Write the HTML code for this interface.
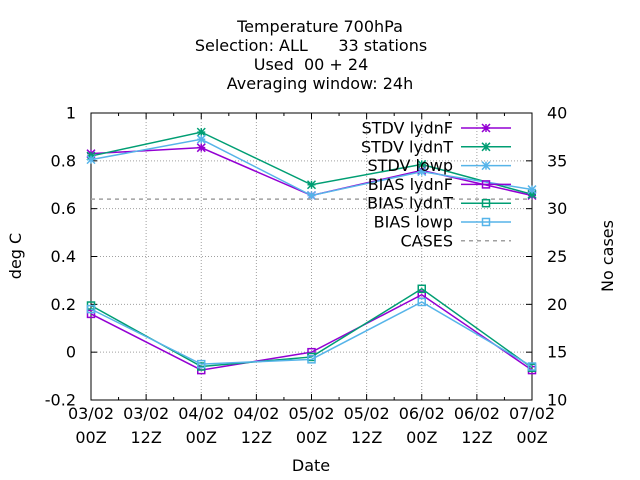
<!DOCTYPE html>
<html><head><meta charset="utf-8"><style>
body{margin:0;background:#fff}
svg{display:block;font-family:"DejaVu Sans","Liberation Sans",sans-serif}
text{white-space:pre}
</style></head><body>
<svg id="c" width="640" height="480">
<g font-size="16" text-anchor="middle" fill="#000">
<text x="320" y="32" xml:space="preserve">Temperature 700hPa</text>
<text x="311" y="51" xml:space="preserve">Selection: ALL      33 stations</text>
<text x="311" y="70" xml:space="preserve">Used  00 + 24</text>
<text x="320" y="89" xml:space="preserve">Averaging window: 24h</text>
</g>
<text x="21" y="256" font-size="16" text-anchor="middle" transform="rotate(-90 21 256)">deg C</text>
<text x="613" y="256" font-size="16" text-anchor="middle" transform="rotate(-90 613 256)">No cases</text>
<text x="311" y="471" font-size="16" text-anchor="middle">Date</text>
<g id="grid"></g><g id="axes"></g><g id="series"></g><g id="legend"></g>
</svg>
<script>
const xLabels=["03/02","03/02","04/02","04/02","05/02","05/02","06/02","06/02","07/02"];
const xLabels2=["00Z","12Z","00Z","12Z","00Z","12Z","00Z","12Z","00Z"];
const yTicks=[-0.2,0,0.2,0.4,0.6,0.8,1];
const y2Ticks=[10,15,20,25,30,35,40];
const dates=[0,1,2,3,4];
const stdvF=[0.83,0.855,0.655,0.76,0.655];
const stdvT=[0.82,0.92,0.70,0.785,0.66];
const stdvL=[0.805,0.89,0.655,0.755,0.68];
const biasF=[0.16,-0.075,0.0,0.24,-0.075];
const biasT=[0.195,-0.06,-0.02,0.265,-0.065];
const biasL=[0.18,-0.05,-0.03,0.21,-0.06];
const cases=[31,31,31,31,31];
const L=91,R=532,T=113,B=400;
const FS=16;
const X=d=>L+(R-L)*d/4;
const Y=v=>B-(v+0.2)/1.2*(B-T);
const Y2=v=>B-(v-10)/30*(B-T);
const NS="http://www.w3.org/2000/svg";
function mk(tag,attrs,parent){const e=document.createElementNS(NS,tag);for(const k in attrs)e.setAttribute(k,attrs[k]);parent.appendChild(e);return e;}
const grid=document.getElementById('grid'),axes=document.getElementById('axes'),ser=document.getElementById('series'),leg=document.getElementById('legend');
yTicks.forEach((v,i)=>{const y=Y(v);
 if(i>0&&i<yTicks.length-1){const g=mk('line',{x1:L,x2:R,y1:y,y2:y,stroke:'#a0a0a0','stroke-dasharray':'1,2','stroke-width':1},grid);}
 mk('line',{x1:L,x2:L+6,y1:y,y2:y,stroke:'#000'},axes);
 const t=mk('text',{x:L-15,y:y+5.5,'font-size':FS,'text-anchor':'end'},axes);t.textContent=String(v);
 });
y2Ticks.forEach(v=>{const y=Y2(v);
 mk('line',{x1:R-6,x2:R,y1:y,y2:y,stroke:'#000'},axes);
 const t=mk('text',{x:R+15,y:y+5.5,'font-size':FS},axes);t.textContent=String(v);
 });
for(let i=0;i<=16;i++){const x=L+(R-L)*i/16;const h=i%2==0?6:3;
 mk('line',{x1:x,x2:x,y1:B,y2:B-h,stroke:'#000'},axes);mk('line',{x1:x,x2:x,y1:T,y2:T+h,stroke:'#000'},axes);}
xLabels.forEach((lab,i)=>{const x=L+(R-L)*i/8;
 if(i>0&&i<8){const g=mk('line',{x1:x,x2:x,y1:T,y2:B,stroke:'#a0a0a0','stroke-dasharray':'1,2'},grid);}
 const t=mk('text',{x:x,y:419,'font-size':FS,'text-anchor':'middle'},axes);t.textContent=lab;
 
 const t2=mk('text',{x:x,y:443,'font-size':FS,'text-anchor':'middle'},axes);t2.textContent=xLabels2[i];
 });
const frame=mk('rect',{x:L,y:T,width:R-L,height:B-T,fill:'none',stroke:'#000'},axes);

function star(x,y,c,p){const s=4;mk('path',{d:`M${x-s},${y-s}L${x+s},${y+s}M${x-s},${y+s}L${x+s},${y-s}M${x-s},${y}L${x+s},${y}M${x},${y-s}L${x},${y+s}`,stroke:c,'stroke-width':1.5},p);}
function box(x,y,c,p){mk('rect',{x:x-3.5,y:y-3.5,width:7,height:7,fill:'none',stroke:c,'stroke-width':1.5},p);}
const series=[["STDV lydnF",stdvF,'#9400d3',star],["STDV lydnT",stdvT,'#009e73',star],["STDV lowp",stdvL,'#56b4e9',star],
["BIAS lydnF",biasF,'#9400d3',box],["BIAS lydnT",biasT,'#009e73',box],["BIAS lowp",biasL,'#56b4e9',box]];
series.forEach((s,k)=>{const g=mk('g',{},ser);
 
 
 mk('polyline',{points:dates.map((d,i)=>X(d)+','+Y(s[1][i])).join(' '),fill:'none',stroke:s[2],'stroke-width':1.5},g);
 dates.forEach((d,i)=>s[3](X(d),Y(s[1][i]),s[2],g));
 const ly=128+k*18.8;
 const lg=mk('g',{},leg);
 const t=mk('text',{x:453,y:ly+5.5,'font-size':FS,'text-anchor':'end'},lg);t.textContent=s[0];
 mk('line',{x1:461,x2:511,y1:ly,y2:ly,stroke:s[2],'stroke-width':1.5},lg);s[3](486,ly,s[2],lg);});
const cg=mk('g',{},ser);
mk('polyline',{points:dates.map((d,i)=>X(d)+','+Y2(cases[i])).join(' '),fill:'none',stroke:'#a0a0a0','stroke-width':1.5,'stroke-dasharray':'4,4'},cg);
const lc=mk('g',{},leg);
const tc=mk('text',{x:453,y:128+6*18.8+5.5,'font-size':FS,'text-anchor':'end'},lc);tc.textContent='CASES';
mk('line',{x1:461,x2:511,y1:128+6*18.8,y2:128+6*18.8,stroke:'#a0a0a0','stroke-width':1.5,'stroke-dasharray':'4,4'},lc);
</script>
</body></html>
